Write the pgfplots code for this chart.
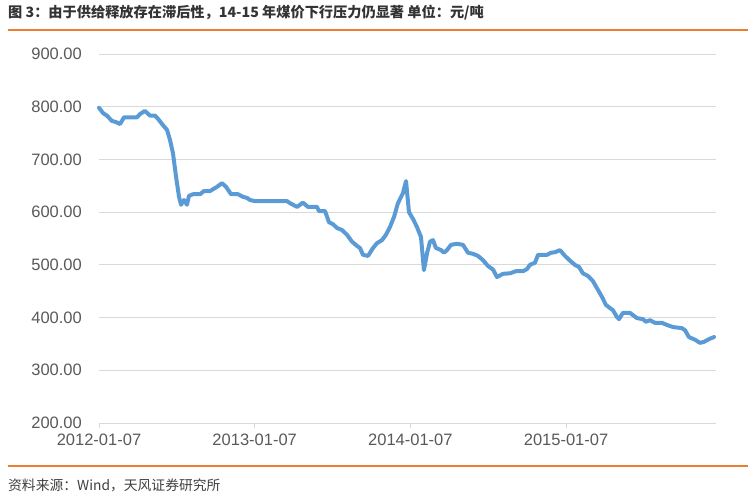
\documentclass[border=0pt]{standalone}
\usepackage{fontspec}
\setmainfont{Liberation Sans}
\newfontfamily\cjk{Noto Sans CJK SC}
\usepackage{pgfplots}
\pgfplotsset{compat=1.18}
\definecolor{lineBlue}{RGB}{91,155,213}
\definecolor{ruleOrange}{RGB}{237,125,49}
\definecolor{gridGray}{RGB}{217,217,217}
\definecolor{tickText}{RGB}{89,89,89}
\definecolor{titleInk}{RGB}{51,51,51}
\definecolor{noteInk}{RGB}{64,64,64}

\begin{document}
\begin{tikzpicture}
\path (0,0) rectangle (755bp,-496bp);
% title and rules
\node[anchor=west, inner sep=0pt, text=titleInk, font=\cjk\bfseries\fontsize{14.2bp}{17bp}\selectfont]
  at (8bp,-13bp) {图\ 3：由于供给释放存在滞后性，14-15 年煤价下行压力仍显著 单位：元/吨};
\draw[ruleOrange, line width=1.6bp] (8bp,-30bp) -- (748bp,-30bp);
\draw[ruleOrange, line width=1.6bp] (8bp,-466bp) -- (748bp,-466bp);
\node[anchor=west, inner sep=0pt, text=noteInk, font=\cjk\fontsize{13.8bp}{16bp}\selectfont]
  at (8bp,-485bp) {资料来源：Wind，天风证券研究所};

\begin{axis}[
    at={(99bp,-423bp)}, anchor=south west,
    scale only axis, width=617bp, height=369bp,
    xmin=0, xmax=3.963, ymin=200, ymax=900,
    axis x line*=bottom, axis y line*=left,
    y axis line style={draw=none},
    x axis line style={draw=gridGray, line width=0.9bp},
    ytick={200,300,400,500,600,700,800,900},
    ymajorgrids, major grid style={draw=gridGray, line width=0.9bp},
    xtick={0,1,2,3},
    xticklabels={2012-01-07,2013-01-07,2014-01-07,2015-01-07},
    tick align=outside, major tick length=5bp,
    xtick style={draw=gridGray, line width=0.9bp},
    ytick style={draw=none},
    /pgf/number format/assume math mode=true,
    yticklabel style={/pgf/number format/fixed, /pgf/number format/fixed zerofill,
        /pgf/number format/precision=2, /pgf/number format/1000 sep={},
        anchor=east, inner sep=0pt, xshift=-12bp,
        font=\fontsize{16.5bp}{18bp}\selectfont, text=tickText},
    xticklabel style={anchor=north, inner sep=0pt, yshift=-6bp,
        font=\fontsize{16.5bp}{18bp}\selectfont, text=tickText},
    clip=false,
]
\addplot[lineBlue, line width=4bp, line join=round, line cap=round] coordinates {
(0.000,798) (0.026,788) (0.051,783) (0.083,773) (0.109,771) (0.135,767)
(0.161,780) (0.199,780) (0.244,780) (0.263,786) (0.295,792) (0.328,783)
(0.360,783) (0.379,777) (0.411,765) (0.437,756) (0.456,737) (0.475,712)
(0.495,667) (0.514,629) (0.527,614) (0.546,623) (0.565,614) (0.578,631)
(0.604,634) (0.649,634) (0.674,640) (0.713,640) (0.758,648) (0.790,655)
(0.816,648) (0.848,634) (0.893,634) (0.925,629) (0.951,627) (0.970,623)
(1.002,621) (1.207,621) (1.227,617) (1.272,610) (1.310,618) (1.342,610)
(1.400,610) (1.413,602) (1.452,602) (1.477,581) (1.503,577) (1.529,570)
(1.561,566) (1.593,557) (1.625,544) (1.657,536) (1.676,532) (1.696,519)
(1.728,517) (1.760,532) (1.785,541) (1.818,547) (1.843,557) (1.869,572)
(1.895,591) (1.920,617) (1.952,636) (1.972,659) (1.991,600) (2.017,587)
(2.042,572) (2.068,553) (2.087,490) (2.107,522) (2.126,544) (2.145,547)
(2.164,532) (2.197,528) (2.216,523) (2.235,528) (2.261,538) (2.299,540)
(2.338,538) (2.370,523) (2.402,521) (2.434,517) (2.466,509) (2.498,498)
(2.531,491) (2.556,477) (2.595,483) (2.640,484) (2.678,488) (2.723,488)
(2.749,492) (2.768,500) (2.800,504) (2.820,519) (2.877,519) (2.903,523)
(2.929,524) (2.961,528) (2.993,517) (3.025,508) (3.057,500) (3.083,496)
(3.108,484) (3.141,479) (3.173,469) (3.198,456) (3.231,439) (3.256,424)
(3.282,418) (3.301,414) (3.327,401) (3.340,397) (3.365,409) (3.410,409)
(3.455,399) (3.494,397) (3.513,392) (3.539,395) (3.571,390) (3.616,390)
(3.648,386) (3.687,382) (3.744,380) (3.764,376) (3.789,363) (3.828,358)
(3.860,352) (3.886,354) (3.924,360) (3.950,363)
};
\end{axis}
\end{tikzpicture}
\end{document}
